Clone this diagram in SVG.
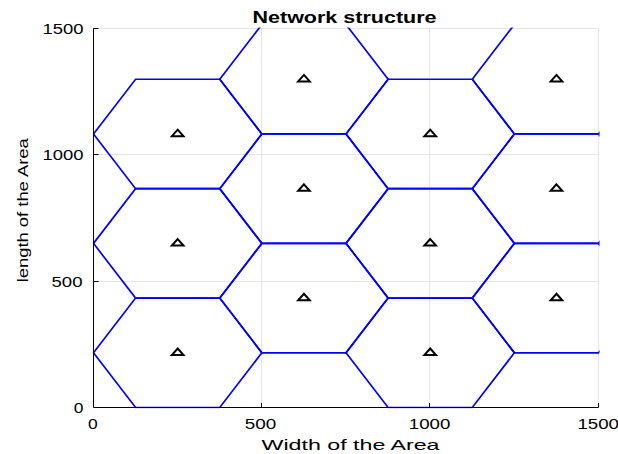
<svg xmlns="http://www.w3.org/2000/svg" xmlns:xlink="http://www.w3.org/1999/xlink" width="618" height="454" viewBox="0 0 618 454">
<style>
.grid{stroke:#e6e6e6;stroke-width:1;fill:none}
.axis{stroke:#000;stroke-width:1;fill:none}
.hex{fill:none;stroke:#0000ff;stroke-width:1.7;stroke-linejoin:miter}
.tri{fill:none;stroke:#000;stroke-width:2;stroke-linejoin:miter}
text{font-family:"Liberation Sans",Arial,sans-serif;fill:#000}
.tick{font-size:14.5px}
.lab{font-size:14.5px}
.title{font-size:17px;font-weight:bold}
</style>
<defs>
<polygon id="hex" class="hex" points="-84.18,0 -42.09,-54.71 42.09,-54.71 84.18,0 42.09,54.71 -42.09,54.71"/>
<polygon id="tri" class="tri" points="0,-4.3 5.8,2.2 -5.8,2.2"/>
<clipPath id="plot"><rect x="92.5" y="27.5" width="507" height="381"/></clipPath>
</defs>
<rect width="618" height="454" fill="#fff"/>
<g id="grid">
<path class="grid" d="M261.5,28.5V407.5M429.5,28.5V407.5M598.5,28.5V407.5M93.5,281.5H598.5M93.5,154.5H598.5M93.5,28.5H598.5"/>
</g>
<g id="cells" clip-path="url(#plot)">
<g id="cell-1"><use xlink:href="#hex" x="177.68" y="352.79"/><use xlink:href="#tri" x="177.68" y="352.79"/></g>
<g id="cell-2"><use xlink:href="#hex" x="177.68" y="243.37"/><use xlink:href="#tri" x="177.68" y="243.37"/></g>
<g id="cell-3"><use xlink:href="#hex" x="177.68" y="133.96"/><use xlink:href="#tri" x="177.68" y="133.96"/></g>
<g id="cell-4"><use xlink:href="#hex" x="303.94" y="298.08"/><use xlink:href="#tri" x="303.94" y="298.08"/></g>
<g id="cell-5"><use xlink:href="#hex" x="303.94" y="188.67"/><use xlink:href="#tri" x="303.94" y="188.67"/></g>
<g id="cell-6"><use xlink:href="#hex" x="303.94" y="79.25"/><use xlink:href="#tri" x="303.94" y="79.25"/></g>
<g id="cell-7"><use xlink:href="#hex" x="430.2" y="352.79"/><use xlink:href="#tri" x="430.2" y="352.79"/></g>
<g id="cell-8"><use xlink:href="#hex" x="430.2" y="243.37"/><use xlink:href="#tri" x="430.2" y="243.37"/></g>
<g id="cell-9"><use xlink:href="#hex" x="430.2" y="133.96"/><use xlink:href="#tri" x="430.2" y="133.96"/></g>
<g id="cell-10"><use xlink:href="#hex" x="556.46" y="298.08"/><use xlink:href="#tri" x="556.46" y="298.08"/></g>
<g id="cell-11"><use xlink:href="#hex" x="556.46" y="188.67"/><use xlink:href="#tri" x="556.46" y="188.67"/></g>
<g id="cell-12"><use xlink:href="#hex" x="556.46" y="79.25"/><use xlink:href="#tri" x="556.46" y="79.25"/></g>
</g>
<g id="axes">
<path class="axis" d="M93.5,28.5V407.5H598.5"/>
<path class="axis" d="M93.5,28.5H98.5M93.5,154.5H98.5M93.5,281.5H98.5M261.5,407.5V403M429.5,407.5V403M598.5,407.5V403"/>
<text class="tick" x="42.5" y="34.3" textLength="41" lengthAdjust="spacingAndGlyphs">1500</text>
<text class="tick" x="42.5" y="160.3" textLength="41" lengthAdjust="spacingAndGlyphs">1000</text>
<text class="tick" x="51.5" y="286.8" textLength="31" lengthAdjust="spacingAndGlyphs">500</text>
<text class="tick" x="73.8" y="413" textLength="9.7" lengthAdjust="spacingAndGlyphs">0</text>
<text class="tick" x="88" y="429.3" textLength="9.7" lengthAdjust="spacingAndGlyphs">0</text>
<text class="tick" x="244.8" y="429.3" textLength="31.5" lengthAdjust="spacingAndGlyphs">500</text>
<text class="tick" x="408.8" y="429.3" textLength="41.5" lengthAdjust="spacingAndGlyphs">1000</text>
<text class="tick" x="577.5" y="429.3" textLength="41.5" lengthAdjust="spacingAndGlyphs">1500</text>
<text class="lab" x="261.5" y="450" textLength="178" lengthAdjust="spacingAndGlyphs">Width of the Area</text>
<text class="lab" transform="translate(27.6,282.3) rotate(-90)" x="0" y="0" textLength="144" lengthAdjust="spacingAndGlyphs">length of the Area</text>
<text class="title" x="252.5" y="22.7" textLength="184" lengthAdjust="spacingAndGlyphs">Network structure</text>
</g>
</svg>
